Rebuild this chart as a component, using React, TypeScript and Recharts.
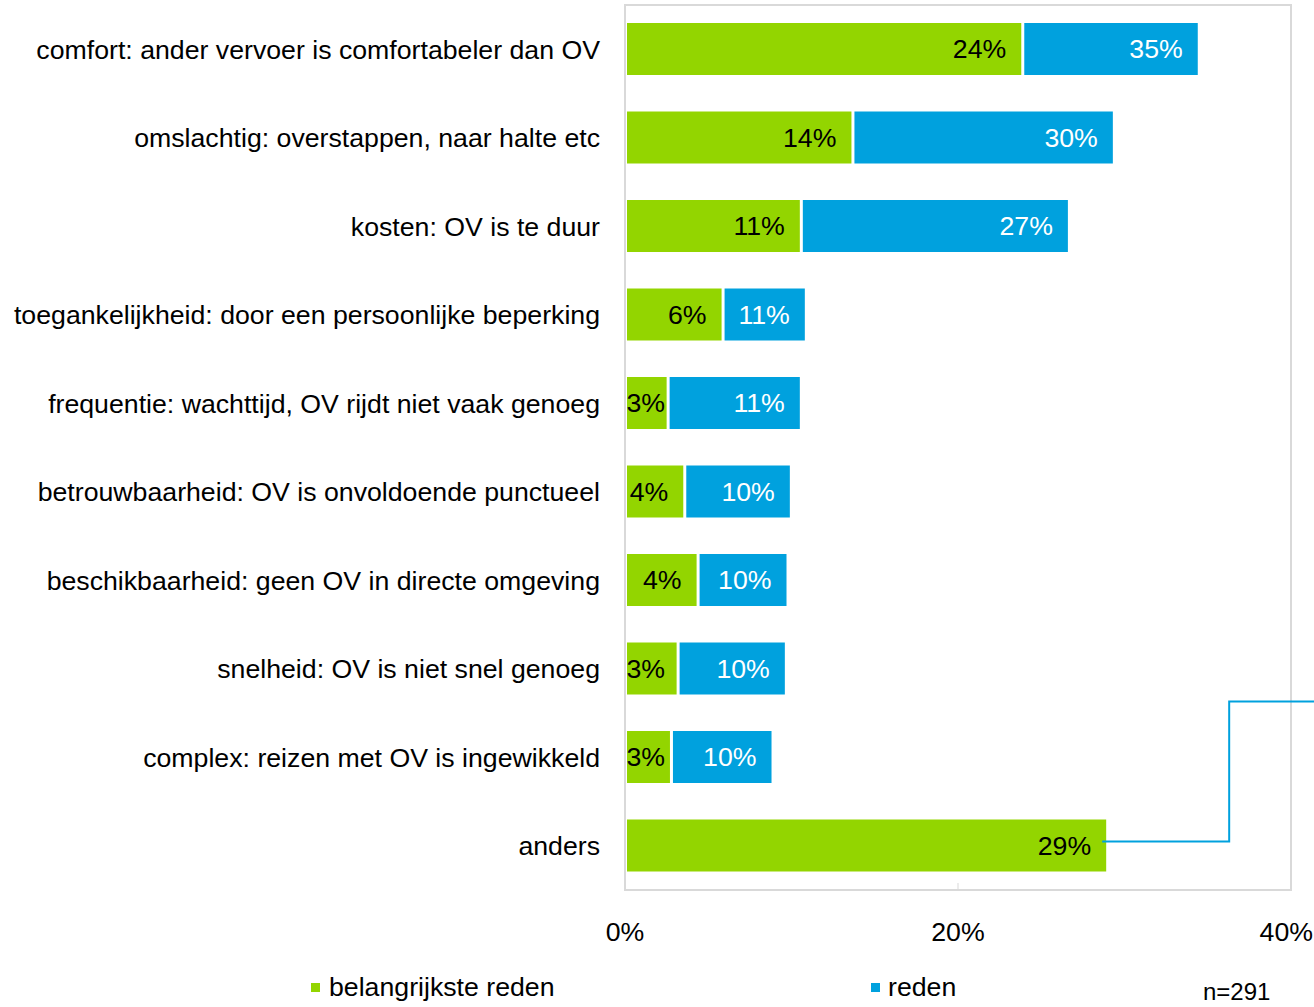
import React from 'react';
import { BarChart, Bar, XAxis, YAxis, ReferenceArea, LabelList } from 'recharts';

const categories = [
  'comfort: ander vervoer is comfortabeler dan OV',
  'omslachtig: overstappen, naar halte etc',
  'kosten: OV is te duur',
  'toegankelijkheid: door een persoonlijke beperking',
  'frequentie: wachttijd, OV rijdt niet vaak genoeg',
  'betrouwbaarheid: OV is onvoldoende punctueel',
  'beschikbaarheid: geen OV in directe omgeving',
  'snelheid: OV is niet snel genoeg',
  'complex: reizen met OV is ingewikkeld',
  'anders',
];
const belangrijksteReden = [23.8, 13.6, 10.5, 5.8, 2.5, 3.5, 4.3, 3.1, 2.7, 28.9];
const reden: (number | null)[] = [34.4, 29.3, 26.6, 10.8, 10.5, 9.9, 9.7, 9.6, 8.8, null];
const belangrijksteLabels = ['24%', '14%', '11%', '6%', '3%', '4%', '4%', '3%', '3%', '29%'];
const redenLabels = ['35%', '30%', '27%', '11%', '11%', '10%', '10%', '10%', '10%', ''];
const xTicks = [0, 20, 40];
const xTickLabels = ['0%', '20%', '40%'];
const legendLabels = ['belangrijkste reden', 'reden'];
const sampleNote = 'n=291';

const GREEN = '#93d500';
const BLUE = '#00a1de';
const FONT = '"Liberation Sans", Arial, Helvetica, sans-serif';
const FS = 26.7;
const CHART_W = 1314;

const data = categories.map((name, i) => ({
  name,
  idx: i,
  green: belangrijksteReden[i],
  rest: reden[i] == null ? null : (reden[i] as number) - belangrijksteReden[i],
}));

const GreenShape = (p: any) => {
  const { x, y, width, height, fill } = p;
  if (!width || width <= 2) return <g />;
  return <rect x={x + 2} y={y} width={width - 2} height={height} fill={fill} />;
};

const BlueShape = (p: any) => {
  const { x, y, width, height, fill } = p;
  if (!width || width <= 3) return <g />;
  return <rect x={x + 3} y={y} width={width - 3} height={height} fill={fill} />;
};

const GreenLabel = (p: any) => {
  const { x, y, width, height, index } = p;
  const end = x + width;
  const cy = y + height / 2;
  const textEnd = Math.max(end - 15, x + 40);
  return (
    <g>
      <text x={textEnd} y={cy} textAnchor="end" dominantBaseline="central" fontSize={FS} fontFamily={FONT} fill="#000">
        {belangrijksteLabels[index]}
      </text>
      {index === categories.length - 1 && (
        <path
          d={`M ${end - 4} ${cy - 4} H ${end + 123} V ${cy - 144} H ${end + 260}`}
          fill="none"
          stroke={BLUE}
          strokeWidth={2}
        />
      )}
    </g>
  );
};

const BlueLabel = (p: any) => {
  const { x, y, width, height, index } = p;
  if (!redenLabels[index]) return null;
  return (
    <text x={x + width - 15} y={y + height / 2} textAnchor="end" dominantBaseline="central" fontSize={FS} fontFamily={FONT} fill="#fff">
      {redenLabels[index]}
    </text>
  );
};

const XTick = (p: any) => {
  const { x, y, payload } = p;
  const i = xTicks.indexOf(payload.value);
  const isLast = i === xTicks.length - 1;
  const tx = isLast ? Math.min(x + 26, CHART_W - 1) : x;
  return (
    <g>
      <line x1={x} x2={x} y1={y - 7} y2={y} stroke="#d9d9d9" strokeWidth={1} />
      <text x={tx} y={y + 51} textAnchor={isLast ? 'end' : 'middle'} fontSize={FS} fontFamily={FONT} fill="#000">
        {xTickLabels[i]}
      </text>
    </g>
  );
};

export default function App() {
  return (
    <div style={{ position: 'absolute', left: 0, top: 0, width: CHART_W, height: 1007, background: '#fff', overflow: 'hidden' }}>
      <BarChart
        width={CHART_W}
        height={1007}
        data={data}
        layout="vertical"
        margin={{ top: 5, right: 23, bottom: 0, left: 0 }}
        barSize={52}
      >
        <XAxis
          type="number"
          domain={[0, 40]}
          ticks={xTicks}
          interval={0}
          axisLine={false}
          tickLine={false}
          tickSize={0}
          tickMargin={0}
          height={117}
          tick={<XTick />}
        />
        <YAxis
          type="category"
          dataKey="name"
          width={625}
          axisLine={false}
          tickLine={false}
          tickSize={0}
          tickMargin={25}
          interval={0}
          tick={{ fontSize: FS, fontFamily: FONT, fill: '#000' }}
        />
        <ReferenceArea x1={0} x2={40} fill="none" stroke="#d9d9d9" strokeWidth={2} />
        <Bar dataKey="green" stackId="a" fill={GREEN} isAnimationActive={false} shape={<GreenShape />}>
          <LabelList dataKey="idx" content={<GreenLabel />} />
        </Bar>
        <Bar dataKey="rest" stackId="a" fill={BLUE} isAnimationActive={false} shape={<BlueShape />}>
          <LabelList dataKey="idx" content={<BlueLabel />} />
        </Bar>
      </BarChart>
      <div style={{ position: 'absolute', left: 311, top: 972, fontFamily: FONT, fontSize: FS, color: '#000', display: 'flex', alignItems: 'center', whiteSpace: 'nowrap' }}>
        <span style={{ display: 'inline-block', width: 9, height: 9, background: GREEN, marginRight: 9 }} />
        {legendLabels[0]}
      </div>
      <div style={{ position: 'absolute', left: 871, top: 972, fontFamily: FONT, fontSize: FS, color: '#000', display: 'flex', alignItems: 'center', whiteSpace: 'nowrap' }}>
        <span style={{ display: 'inline-block', width: 9, height: 9, background: BLUE, marginRight: 8 }} />
        {legendLabels[1]}
      </div>
      <div style={{ position: 'absolute', left: 1203, top: 978, fontFamily: FONT, fontSize: 24, color: '#000', whiteSpace: 'nowrap' }}>
        {sampleNote}
      </div>
    </div>
  );
}
